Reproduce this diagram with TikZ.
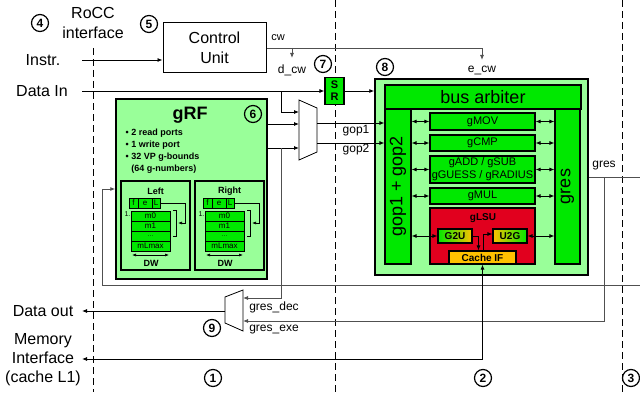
\documentclass[tikz,border=0pt]{standalone}
\usepackage{fontspec}
\setmainfont{Liberation Sans}
\usetikzlibrary{arrows.meta,calc}

\definecolor{lgreen}{RGB}{153,255,153}
\definecolor{bgreen}{RGB}{0,232,0}
\definecolor{lsured}{RGB}{225,0,30}
\definecolor{cacheor}{RGB}{255,192,0}
\definecolor{wire}{RGB}{80,80,80}

\tikzset{
  arr/.style={-{Latex[length=5pt,width=4pt]}},
  darr/.style={{Latex[length=5pt,width=4pt]}-{Latex[length=5pt,width=4pt]}},
  arrs/.style={-{Latex[length=4pt,width=3pt]}, line width=0.6pt},
  darrs/.style={{Latex[length=4pt,width=3pt]}-{Latex[length=4pt,width=3pt]}, line width=0.6pt},
  bigtxt/.style={font=\fontsize{16}{20}\selectfont, align=center},
  lbl/.style={font=\fontsize{12}{14}\selectfont},
  num/.style={circle, draw, line width=1.2pt, inner sep=0pt, minimum size=17pt,
    font=\bfseries\fontsize{12}{12}\selectfont},
  unitbox/.style={draw, line width=1.2pt, fill=bgreen, inner sep=0pt,
    font=\fontsize{11}{13}\selectfont, align=center},
  cell/.style={draw, line width=0.6pt, fill=bgreen, inner sep=0pt,
    font=\fontsize{8}{8}\selectfont},
  sep/.style={dash pattern=on 7pt off 4pt, line width=0.8pt}
}

\begin{document}
\begin{tikzpicture}[x=1pt, y=-1pt, line width=0.8pt]
    \useasboundingbox (0,0) rectangle (640,396);

    % Stage borders
    \draw[sep] (93,48) -- (93,392);
    \draw[sep] (335,0) -- (335,392);
    \draw[sep] (622,0) -- (622,392);

    % Interface side
    \node[bigtxt] (rocc) at (93,23) {RoCC\\interface};
    \node[bigtxt] (instr) at (43,60) {Instr.};
    \node[bigtxt] (din) at (42,91) {Data In};
    \node[bigtxt] (dout) at (43,311) {Data out};
    \node[bigtxt, font=\fontsize{16}{19}\selectfont] (mem) at (43,360) {Memory\\Interface\\(cache L1)};
    \coordinate (pinstr) at (82,60);
    \coordinate (pdin) at (82,91);
    \coordinate (pdout) at (82,311);
    \coordinate (pmem) at (82,359);

    % Stage numbers
    \node[num] (n1) at (213,378) {1};
    \node[num] (n2) at (483,378) {2};
    \node[num] (n3) at (631,378) {3};
    \node[num] (n4) at (40,23) {4};
    \node[num] (n5) at (149,24) {5};
    \node[num] (n7) at (323,64) {7};
    \node[num] (n8) at (385,67) {8};
    \node[num] (n9) at (212,328) {9};

    % Control unit and control words
    \node[draw, bigtxt, line width=1pt, minimum width=103pt, minimum height=50pt] (cu) at (214.5,48) {Control\\Unit};
    \draw[arr] (pinstr) -- (cu.west |- pinstr);
    \coordinate (cwj) at (292,48);
    \coordinate (dcw) at (292,58);
    \coordinate (ecw) at (482,60);
    \draw[arr, wire] (cu.east) -| (ecw);
    \draw[arr, wire] (cwj) -- (dcw);
    \node[lbl, font=\fontsize{11}{12}\selectfont] (cwl) at (278,38) {cw};
    \node[lbl] (dcwl) at (292,70) {d\_cw};
    \node[lbl] (ecwl) at (482,70) {e\_cw};

    % Register file
    \node[draw, line width=1.5pt, fill=lgreen, minimum width=151pt, minimum height=180pt] (grf) at (191.5,189) {};
    \node[font=\bfseries\fontsize{18}{18}\selectfont] (grft) at (190,115) {gRF};
    \node[num] (n6) at (253,114) {6};
    \node[anchor=north west, align=left, font=\bfseries\fontsize{9}{12}\selectfont] (grfl) at (122,125)
        {\textbullet\ 2 read ports\\\textbullet\ 1 write port\\\textbullet\ 32 VP g-bounds\\\hphantom{\textbullet\ }(64 g-numbers)};
    \foreach \dx/\side in {0/Left,74/Right} {
        \begin{scope}[shift={(\dx,0)}]
            \node[draw, line width=1.5pt, minimum width=69pt, minimum height=89pt] (sub\side) at (155.5,225.5) {};
            \node[font=\bfseries\fontsize{9}{9}\selectfont] (ttl\side) at (155.5,191) {\side};
            \node[cell, minimum width=9pt, minimum height=10pt] (f\side) at (133.5,203) {f};
            \node[cell, minimum width=14pt, minimum height=10pt] (e\side) at (145,203) {e};
            \node[cell, minimum width=8pt, minimum height=10pt] (L\side) at (156,203) {L};
            \foreach \r/\t [count=\k] in {216/m0,226/m1,236/{\fontsize{6}{6}\selectfont\ldots},246/mLmax}
                \node[cell, minimum width=39pt, minimum height=10pt] (m\k\side) at (150.5,\r) {\t};
            \node[inner sep=0pt, font=\fontsize{7}{7}\selectfont] (one\side) at (127.5,214) {1.};
            \draw[line width=0.6pt] (173,210) -- (176,210) -- (176,236) -- (173,236);
            \draw[arrs] (L\side.east) -- (185,203) -- (185,223) -- (178,223);
            \draw[darrs] (132,255) -- (169,255);
            \node[font=\bfseries\fontsize{9}{9}\selectfont] (dw\side) at (151,263) {DW};
        \end{scope}
    }

    % Operand multiplexer
    \coordinate (m1a) at (299,100);
    \coordinate (m1b) at (317,108);
    \coordinate (m1c) at (317,152);
    \coordinate (m1d) at (299,160);
    \draw[fill=white] (m1a) -- (m1b) -- (m1c) -- (m1d) -- cycle;
    \coordinate (m1i1) at (299,112);
    \coordinate (m1i2) at (299,124);
    \coordinate (m1i3) at (299,148);
    \coordinate (m1o1) at (317,123);
    \coordinate (m1o2) at (317,143);

    % Result multiplexer
    \coordinate (m9a) at (225,297);
    \coordinate (m9b) at (243,290);
    \coordinate (m9c) at (243,331);
    \coordinate (m9d) at (225,323);
    \draw[fill=white] (m9a) -- (m9b) -- (m9c) -- (m9d) -- cycle;
    \coordinate (m9i1) at (243,298);
    \coordinate (m9i2) at (243,321);
    \coordinate (m9o) at (225,311);
    \draw[arr] (m9o) -- (pdout);
    \node[lbl] (gdecl) at (274,307) {gres\_dec};
    \node[lbl] (gexel) at (274,330) {gres\_exe};

    % Execution unit
    \node[draw, line width=1.5pt, fill=lgreen, minimum width=213pt, minimum height=196pt] (exe) at (481.5,177) {};
    \node[unitbox, minimum width=196pt, minimum height=24pt, font=\fontsize{18}{20}\selectfont] (arb) at (483,97) {bus arbiter};
    \node[unitbox, minimum width=26pt, minimum height=155pt] (gop) at (398,186.5) {};
    \node[rotate=90, font=\fontsize{18}{20}\selectfont] (gopt) at (gop.center) {gop1 + gop2};
    \node[unitbox, minimum width=25pt, minimum height=155pt] (grs) at (567.5,186.5) {};
    \node[rotate=90, font=\fontsize{18}{20}\selectfont] (grst) at (grs.center) {gres};
    \node[unitbox, minimum width=105pt, minimum height=17pt] (gmov) at (482.5,121.5) {gMOV};
    \node[unitbox, minimum width=105pt, minimum height=16pt] (gcmp) at (482.5,143) {gCMP};
    \node[unitbox, minimum width=105pt, minimum height=27pt] (gadd) at (482.5,169.5) {gADD / gSUB\\gGUESS / gRADIUS};
    \node[unitbox, minimum width=105pt, minimum height=16pt] (gmul) at (482.5,196) {gMUL};
    \node[draw, line width=1.2pt, fill=lsured, minimum width=105pt, minimum height=56pt] (glsu) at (482.5,236) {};
    \node[font=\bfseries\fontsize{10}{10}\selectfont] (glsut) at (483,218) {gLSU};
    \node[draw, line width=1.2pt, left color=bgreen, right color=cacheor, inner sep=0pt, minimum width=34pt, minimum height=14pt,
        font=\bfseries\fontsize{10}{10}\selectfont] (g2u) at (455,236) {G2U};
    \node[draw, line width=1.2pt, left color=cacheor, right color=bgreen, inner sep=0pt, minimum width=34pt, minimum height=14pt,
        font=\bfseries\fontsize{10}{10}\selectfont] (u2g) at (510,236) {U2G};
    \node[draw, line width=1.2pt, fill=cacheor, inner sep=0pt, minimum width=67pt, minimum height=13pt,
        font=\bfseries\fontsize{10}{10}\selectfont] (cif) at (482.5,257.5) {Cache IF};

    % Buses inside the execution unit
    \foreach \u in {gmov,gcmp,gadd,gmul} {
        \draw[darr] (gop.east |- \u.west) -- (\u.west);
        \draw[darr] (\u.east) -- (grs.west |- \u.east);
    }
    \draw[darr] (gop.east |- g2u.west) -- (g2u.west);
    \draw[darr] (u2g.east) -- (grs.west |- u2g.east);
    \draw[arr] (g2u.east) -| ([xshift=-4pt]cif.north);
    \draw[arr] ([xshift=1pt]cif.north) |- ([yshift=2pt]u2g.west);

    % Data paths
    \node[unitbox, minimum width=19pt, minimum height=27pt, font=\bfseries\fontsize{11}{12}\selectfont] (sr) at (334.5,91) {S\\R};
    \coordinate (djoin) at (281,91);
    \draw[arr] (pdin) -- (sr.west);
    \draw[arr] (djoin) |- (m1i1);
    \draw[arr] (sr.east) -- (exe.west |- sr.east);
    \draw[arr] (grf.east |- m1i2) -- (m1i2);
    \draw[arr] (grf.east |- m1i3) -- (m1i3);
    \coordinate (rjoin) at (281,148);
    \draw[arr, wire] (rjoin) |- (m9i1);
    \draw[arr] (m1o1) -- (gop.west |- m1o1);
    \draw[arr] (m1o2) -- (gop.west |- m1o2);
    \node[lbl] (gop1l) at (356,131) {gop1};
    \node[lbl] (gop2l) at (356,150) {gop2};

    % Result and memory paths
    \coordinate (gresR) at (640,177);
    \coordinate (gresJ) at (604,177);
    \coordinate (fbR) at (640,285);
    \draw[wire] (exe.east) -- (gresR);
    \node[lbl] (gresl) at (604,166) {gres};
    \draw[arr, wire] (gresJ) |- (m9i2);
    \draw[arr, wire] (fbR) -| ([xshift=-13pt]grf.west) -- (grf.west);
    \draw[darr] (pmem) -| (cif.south);

\end{tikzpicture}
\end{document}
